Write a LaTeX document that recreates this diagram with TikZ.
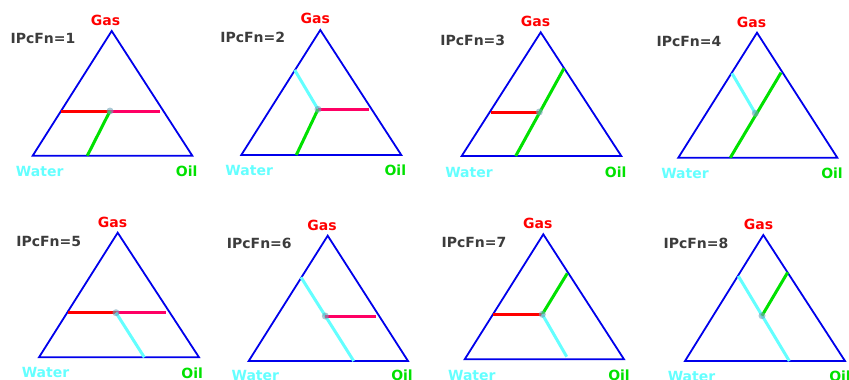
\documentclass[tikz,border=0pt]{standalone}
\usepackage{fontspec}
\setmainfont{DejaVu Sans}
\usepackage{tikz}
\usetikzlibrary{positioning, calc}

\definecolor{triblue}{RGB}{0,0,235}
\definecolor{gasred}{RGB}{255,0,0}
\definecolor{gaspink}{RGB}{255,0,100}
\definecolor{watercyan}{RGB}{100,255,255}
\definecolor{oilgreen}{RGB}{0,225,0}
\definecolor{fngray}{RGB}{60,60,60}

\begin{document}
\begin{tikzpicture}[x=1pt, y=-1pt,
                tri/.style={draw=triblue, line width=1.8pt},
                redline/.style={draw=gasred, line width=3pt},
                pinkline/.style={draw=gaspink, line width=3pt},
                cyanline/.style={draw=watercyan, line width=3pt},
                greenline/.style={draw=oilgreen, line width=3pt},
                lbl/.style={inner sep=0pt, font=\bfseries\fontsize{14}{16}\selectfont},
                fnlabel/.style={lbl, text=fngray},
                gaslabel/.style={lbl, text=gasred},
                waterlabel/.style={lbl, text=watercyan},
                oillabel/.style={lbl, text=oilgreen},
                point/.style={circle, fill=cyan!40!gray, fill opacity=0.6, minimum size=7pt, inner sep=0pt}
            ]
            \useasboundingbox (0,0) rectangle (849,380);

            % Ecken und Punkte
            \coordinate (g1) at (111.7,31);    \coordinate (w1) at (32.7,155.7);  \coordinate (o1) at (192.3,155.7); \coordinate (c1) at (110,111);
            \coordinate (g2) at (320.3,30);    \coordinate (w2) at (241.3,155);   \coordinate (o2) at (401.3,155);   \coordinate (c2) at (318,109.3);
            \coordinate (g3) at (540.7,32.3);  \coordinate (w3) at (461.7,156);   \coordinate (o3) at (621.3,156);   \coordinate (c3) at (539.3,112);
            \coordinate (g4) at (757,32.7);    \coordinate (w4) at (678.3,157.7); \coordinate (o4) at (837.3,157.7); \coordinate (c4) at (755.3,113.3);
            \coordinate (g5) at (117.7,232.7); \coordinate (w5) at (39,357.3);    \coordinate (o5) at (199,357.3);   \coordinate (c5) at (116,312.7);
            \coordinate (g6) at (327.7,235.7); \coordinate (w6) at (248.7,361);   \coordinate (o6) at (408,361);     \coordinate (c6) at (325.3,316);
            \coordinate (g7) at (543.3,234.3); \coordinate (w7) at (464.7,359.3); \coordinate (o7) at (624,359.3);   \coordinate (c7) at (542.3,314.3);
            \coordinate (g8) at (763.3,235);   \coordinate (w8) at (685,361);     \coordinate (o8) at (845,361);     \coordinate (c8) at (762,315.7);

            % Enden der Linien
            \coordinate (r1a) at (61,111);      \coordinate (r1b) at (160,111);    \coordinate (e1) at (87.3,155.7);
            \coordinate (q2) at (294.7,70);     \coordinate (r2b) at (369.3,109.3); \coordinate (e2) at (296.3,155);
            \coordinate (r3a) at (490.7,112);   \coordinate (e3a) at (564,68.3);   \coordinate (e3b) at (515.7,156);
            \coordinate (q4) at (732,73.3);     \coordinate (e4a) at (781,72.7);   \coordinate (e4b) at (730.3,157.7);
            \coordinate (r5a) at (68.3,312.7);  \coordinate (r5b) at (165.7,312.7); \coordinate (q5) at (144.3,357.3);
            \coordinate (q6a) at (301,277.3);   \coordinate (q6b) at (353.7,361);  \coordinate (r6b) at (376,316);
            \coordinate (r7a) at (493.3,314.3); \coordinate (e7) at (567.3,273.3); \coordinate (q7) at (566.7,356.7);
            \coordinate (q8a) at (738.3,276);   \coordinate (q8b) at (789.3,361);  \coordinate (e8) at (787.7,272.3);

            % Dreiecke
            \foreach \i in {1,...,8}
                \draw[tri] (g\i) -- (w\i) -- (o\i) -- cycle;

            % Linien
            \draw[redline] (r1a) -- (c1);  \draw[pinkline] (c1) -- (r1b);  \draw[greenline] (c1) -- (e1);
            \draw[cyanline] (q2) -- (c2);  \draw[pinkline] (c2) -- (r2b);  \draw[greenline] (c2) -- (e2);
            \draw[redline] (r3a) -- (c3);  \draw[greenline] (e3a) -- (e3b);
            \draw[cyanline] (q4) -- (c4);  \draw[greenline] (e4a) -- (e4b);
            \draw[redline] (r5a) -- (c5);  \draw[pinkline] (c5) -- (r5b);  \draw[cyanline] (c5) -- (q5);
            \draw[cyanline] (q6a) -- (q6b); \draw[pinkline] (c6) -- (r6b);
            \draw[redline] (r7a) -- (c7);  \draw[greenline] (c7) -- (e7);  \draw[cyanline] (c7) -- (q7);
            \draw[cyanline] (q8a) -- (q8b); \draw[greenline] (c8) -- (e8);

            \foreach \i in {1,...,8}
                \node[point] (p\i) at (c\i) {};

            % Beschriftungen
            \node[fnlabel] (fn1) at (43,38.3) {IPcFn=1};
            \node[fnlabel] (fn2) at (252.7,37.3) {IPcFn=2};
            \node[fnlabel] (fn3) at (472.8,40) {IPcFn=3};
            \node[fnlabel] (fn4) at (689,41.7) {IPcFn=4};
            \node[fnlabel] (fn5) at (48.8,241) {IPcFn=5};
            \node[fnlabel] (fn6) at (259.3,243.3) {IPcFn=6};
            \node[fnlabel] (fn7) at (474,242.3) {IPcFn=7};
            \node[fnlabel] (fn8) at (696,243.3) {IPcFn=8};

            \node[gaslabel] (gas1) at (105.5,20.8) {Gas};
            \node[gaslabel] (gas2) at (315.3,18.3) {Gas};
            \node[gaslabel] (gas3) at (535.5,21.7) {Gas};
            \node[gaslabel] (gas4) at (751.5,22.7) {Gas};
            \node[gaslabel] (gas5) at (112.5,222.3) {Gas};
            \node[gaslabel] (gas6) at (322,225.7) {Gas};
            \node[gaslabel] (gas7) at (537.8,223.3) {Gas};
            \node[gaslabel] (gas8) at (758.5,224.3) {Gas};

            \node[waterlabel] (water1) at (39.7,171) {Water};
            \node[waterlabel] (water2) at (249.2,170) {Water};
            \node[waterlabel] (water3) at (469,172.3) {Water};
            \node[waterlabel] (water4) at (685,173.3) {Water};
            \node[waterlabel] (water5) at (45.5,372.7) {Water};
            \node[waterlabel] (water6) at (255.3,375.5) {Water};
            \node[waterlabel] (water7) at (471.8,375.5) {Water};
            \node[waterlabel] (water8) at (691.5,376) {Water};

            \node[oillabel] (oil1) at (186.7,171) {Oil};
            \node[oillabel] (oil2) at (395.3,170) {Oil};
            \node[oillabel] (oil3) at (615.7,172) {Oil};
            \node[oillabel] (oil4) at (832,173) {Oil};
            \node[oillabel] (oil5) at (192.2,373) {Oil};
            \node[oillabel] (oil6) at (402,375.5) {Oil};
            \node[oillabel] (oil7) at (619,375.5) {Oil};
            \node[oillabel] (oil8) at (840,376) {Oil};

        \end{tikzpicture}
\end{document}
